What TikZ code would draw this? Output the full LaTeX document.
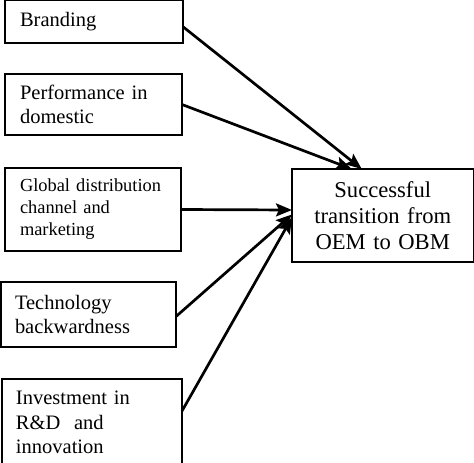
\documentclass[tikz,border=0pt]{standalone}
\usepackage{fontspec}
\setmainfont{Liberation Serif}
\usetikzlibrary{arrows.meta}
\tikzset{
    factor/.style={draw, line width=1.6pt, anchor=north west, outer sep=0pt, inner xsep=15pt, align=left,
        font=\fontsize{20.5}{23.5}\selectfont},
    outcome/.style={draw, line width=1.6pt, anchor=north west, outer sep=0pt, inner xsep=8pt, align=center,
        font=\fontsize{22.6}{26}\selectfont},
    link/.style={line width=2.7pt, -{Stealth[length=16pt, width=13pt, inset=3pt]}}
}
\begin{document}
\begin{tikzpicture}[x=1pt, y=-1pt]
                \useasboundingbox (0,0) rectangle (474,463);

                \node[factor, text width=148pt, minimum height=42.5pt] (brand) at (5,0.5) {Branding};
                \node[factor, text width=147pt, minimum height=61pt] (perf) at (5,74) {Performance in\\domestic};
                \node[factor, text width=146pt, minimum height=83pt, font=\fontsize{18.4}{22}\selectfont] (glob) at (5,168) {Global distribution\\channel and\\marketing};
                \node[factor, text width=147pt, minimum height=65pt, inner xsep=14pt] (tech) at (1,282) {Technology\\backwardness};
                \node[factor, text width=152pt, minimum height=87pt, inner xsep=14pt, font=\fontsize{20.5}{24.5}\selectfont] (inv) at (2,379) {Investment in\\R\&D~ and\\innovation};

                \node[outcome, text width=165.5pt, minimum height=93pt] (succ) at (292,169) {Successful\\transition from\\OEM to OBM};

                \draw[link] ([yshift=-5pt]brand.east) -- ([xshift=-21pt]succ.north);
                \draw[link] (perf.east) -- ([xshift=-31pt]succ.north);
                \draw[link] (glob.east) -- ([yshift=5.5pt]succ.west);
                \draw[link] ([yshift=-2pt]tech.east) -- ([yshift=1pt]succ.west);
                \draw[link] ([yshift=11.5pt]inv.east) -- ([yshift=-2pt]succ.west);
            \end{tikzpicture}
\end{document}
